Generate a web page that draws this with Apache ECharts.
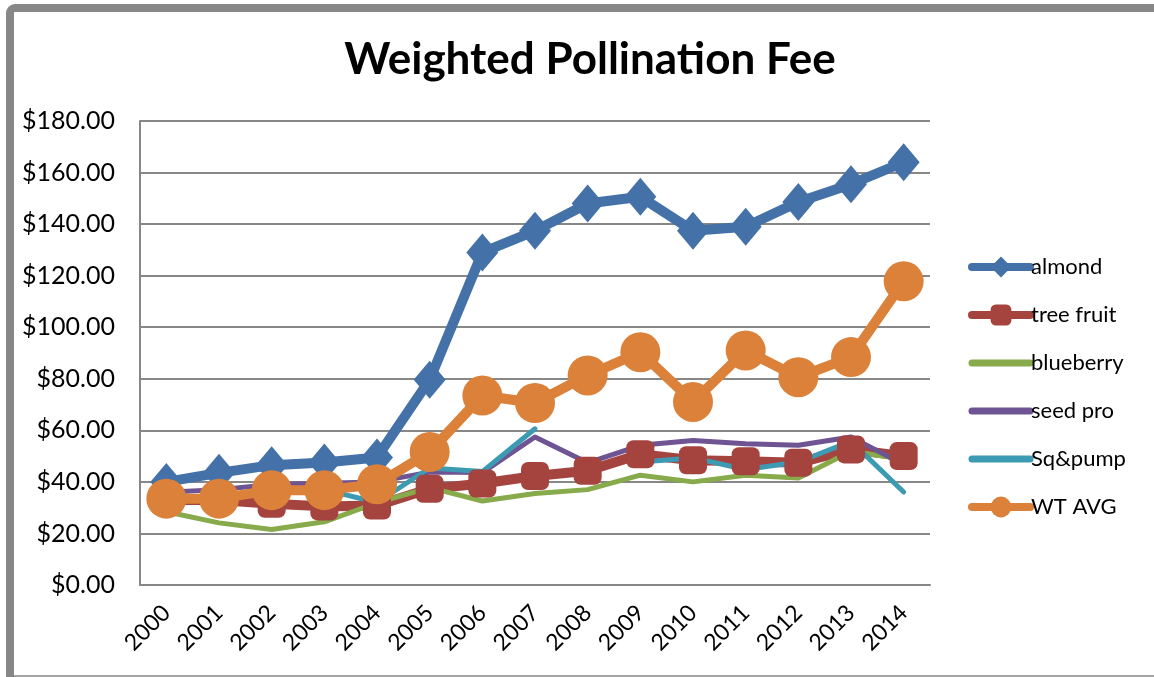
<!DOCTYPE html>
<html>
<head>
<meta charset="utf-8">
<script src="https://cdn.jsdelivr.net/npm/echarts@6/dist/echarts.min.js"></script>
<style>
  html, body { margin: 0; padding: 0; background: #fff; }
  #chart { width: 1154px; height: 677px; }
</style>
</head>
<body>
<div id="chart"></div>
<script>
// Data
const years = ['2000', '2001', '2002', '2003', '2004', '2005', '2006', '2007',
  '2008', '2009', '2010', '2011', '2012', '2013', '2014']
const almond = [40, 43.5, 46.5, 47.5, 49.5, 79.6, 129, 137.4, 148, 150.6, 137.4, 139, 148.6, 155.5, 164]
const treeFruit = [33, 33, 31.5, 30.5, 30.8, 37.3, 39.4, 42.3, 44.3, 50.7, 48.4, 48, 47.4, 52.6, 50]
const blueberry = [28.4, 24.1, 21.5, 24.5, 31.9, 37.8, 32.6, 35.5, 37, 42.6, 40, 42.6, 41.5, 51.9, 48.8]
const seedPro = [36, 37, 39, 39.5, 40, 43.8, 43.6, 57.4, 47.4, 54.2, 56.1, 54.8, 54.2, 57.4, 46.7]
const sqPump = [34, 34, 36, 37, 32, 45.4, 44, 60.6, null, 47.7, 49.3, 44.8, 47.7, 55.7, 36.1]
const wtAvg = [33.5, 33.5, 36.8, 36.8, 39.1, 51.6, 73.5, 70.6, 81.3, 90.3, 71, 91, 80.6, 88.4, 117.8]
const yTicks = { min: 0, max: 180, interval: 20 }

const font = 'Lato, "Open Sans", sans-serif'
const gridGray = '#878787'
const colors = {
  almond: '#4471a7',
  treeFruit: '#a5433f',
  blueberry: '#87aa4b',
  seedPro: '#6e5493',
  sqPump: '#3c9ab3',
  wtAvg: '#db8139'
}

const chart = echarts.init(document.getElementById('chart'))

const thick = (name, data, color, symbol, size) => ({
  name: name,
  type: 'line',
  data: data,
  symbol: symbol,
  symbolSize: size,
  showSymbol: true,
  lineStyle: { color: color, width: 10, cap: 'round', join: 'round' },
  itemStyle: { color: color, borderWidth: 0 },
  emphasis: { disabled: true },
  animation: false
})

const thin = (name, data, color) => ({
  name: name,
  type: 'line',
  data: data,
  symbol: 'none',
  connectNulls: false,
  lineStyle: { color: color, width: 5, cap: 'round', join: 'round' },
  itemStyle: { color: color },
  emphasis: { disabled: true },
  animation: false
})

// legend entry of a plain line: keep the line, hide the marker
const plainEntry = (name, color) => ({
  name: name,
  itemStyle: { color: 'rgba(0,0,0,0)', borderWidth: 0 },
  lineStyle: { color: color, width: 7 }
})

chart.setOption({
  animation: false,
  title: {
    text: 'Weighted Pollination Fee',
    left: 585,
    textAlign: 'center',
    top: 33,
    textStyle: { fontFamily: font, fontSize: 44, fontWeight: 'bold', color: '#000' }
  },
  graphic: [
    {
      type: 'rect',
      shape: { x: 10, y: 8, width: 1200, height: 740, r: 5 },
      style: { fill: 'none', stroke: gridGray, lineWidth: 8 },
      silent: true
    },
    {
      type: 'line',
      shape: { x1: 6, y1: 676, x2: 1154, y2: 676 },
      style: { stroke: gridGray, lineWidth: 1.5 },
      silent: true
    }
  ],
  legend: {
    orient: 'vertical',
    left: 963,
    top: 251,
    itemWidth: 58,
    itemHeight: 26,
    itemGap: 26,
    textStyle: { fontFamily: font, fontSize: 22, color: '#000', padding: [0, 0, 0, -4] },
    data: [
      { name: 'almond', lineStyle: { width: 8 } },
      { name: 'tree fruit', lineStyle: { width: 8 } },
      plainEntry('blueberry', colors.blueberry),
      plainEntry('seed pro', colors.seedPro),
      plainEntry('Sq&pump', colors.sqPump),
      { name: 'WT AVG', lineStyle: { width: 8 } }
    ]
  },
  grid: { left: 140, right: 224, top: 121, bottom: 92 },
  xAxis: {
    type: 'category',
    data: years,
    boundaryGap: true,
    axisLine: { lineStyle: { color: gridGray, width: 2 } },
    axisTick: { show: false },
    axisLabel: {
      rotate: 45,
      fontFamily: font,
      fontSize: 23,
      color: '#000',
      margin: 24
    }
  },
  yAxis: {
    type: 'value',
    min: yTicks.min,
    max: yTicks.max,
    interval: yTicks.interval,
    axisLine: { show: true, lineStyle: { color: gridGray, width: 2 } },
    axisTick: { show: false },
    splitLine: { lineStyle: { color: gridGray, width: 2 } },
    axisLabel: {
      fontFamily: font,
      fontSize: 25,
      color: '#000',
      margin: 25,
      formatter: v => '$' + v.toFixed(2)
    }
  },
  series: [
    thick('almond', almond, colors.almond, 'diamond', [32, 38]),
    thick('tree fruit', treeFruit, colors.treeFruit, 'roundRect', 28),
    thin('blueberry', blueberry, colors.blueberry),
    thin('seed pro', seedPro, colors.seedPro),
    thin('Sq&pump', sqPump, colors.sqPump),
    thick('WT AVG', wtAvg, colors.wtAvg, 'circle', 40)
  ]
})
</script>
</body>
</html>
